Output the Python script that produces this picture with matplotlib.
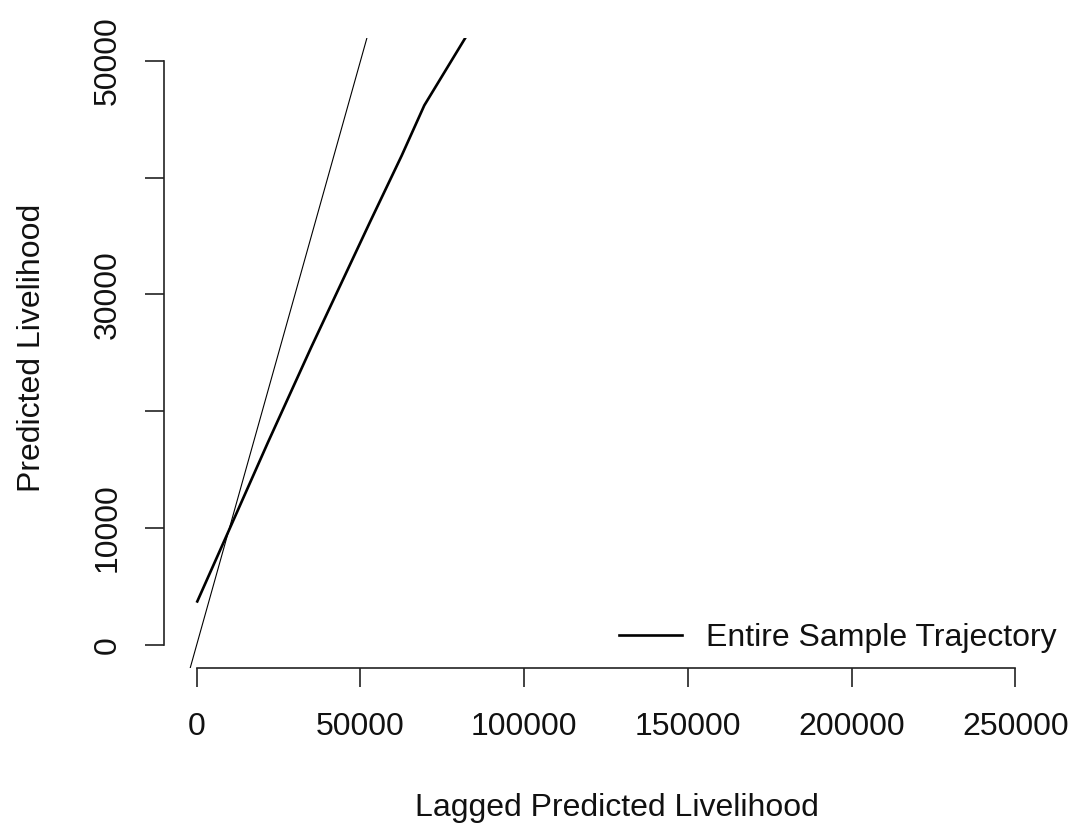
import matplotlib
matplotlib.use("Agg")
import matplotlib.pyplot as plt
from matplotlib.lines import Line2D

plt.rcParams['font.family'] = ['Liberation Sans', 'DejaVu Sans']

# Data
lagged_livelihood = [0, 10000, 21700, 35000, 52900, 62600, 69500, 82500, 85000]
predicted_livelihood = [3600, 9900, 17300, 25500, 36200, 41900, 46200, 52200, 53300]

x_ticks = [0, 50000, 100000, 150000, 200000, 250000]
x_ticklabels = ["0", "50000", "100000", "150000", "200000", "250000"]
y_ticks = [0, 10000, 20000, 30000, 40000, 50000]
y_ticklabels = ["0", "10000", "", "30000", "", "50000"]

x_label = "Lagged Predicted Livelihood"
y_label = "Predicted Livelihood"
legend_label = "Entire Sample Trajectory"

W, H = 1074, 830
fig = plt.figure(figsize=(W / 100, H / 100), dpi=100)
left_px, right_px, top_px, bottom_px = 164, 1048, 37.7, 668
ax = fig.add_axes([left_px / W, 1 - bottom_px / H, (right_px - left_px) / W, (bottom_px - top_px) / H])

fs = 23

ax.plot(lagged_livelihood, predicted_livelihood, color='black', lw=1.9, solid_capstyle='butt')
ax.axline((0, 0), slope=1, color='black', lw=0.8)

ax.set_xlim(-10000, 260000)
ax.set_ylim(-2000, 52000)

for s in ['top', 'right']:
    ax.spines[s].set_visible(False)
ax.spines['left'].set_bounds(0, 50000)
ax.spines['bottom'].set_bounds(0, 250000)
for s in ['left', 'bottom']:
    ax.spines[s].set_linewidth(1.2)
    ax.spines[s].set_color('#222222')

ax.set_xticks(x_ticks)
ax.set_xticklabels(x_ticklabels)
ax.set_yticks(y_ticks)
ax.set_yticklabels(y_ticklabels, rotation=90, va='center')
ax.tick_params(axis='both', direction='out', length=13.7, width=1.2, color='#222222', labelsize=fs, labelcolor='#111111')
ax.tick_params(axis='x', pad=18)
ax.tick_params(axis='y', pad=16)

fig.text(617 / W, 1 - 808 / H, x_label, ha='center', va='center', fontsize=fs, color='#111111')
fig.text(32 / W, 1 - 348 / H, y_label, ha='center', va='center', rotation=90, fontsize=fs, color='#111111')

handle = Line2D([], [], color='black', lw=1.9)
leg = ax.legend([handle], [legend_label], loc='center right', bbox_to_anchor=(1057 / W, 1 - 638 / H),
                bbox_transform=fig.transFigure, frameon=False, fontsize=fs, handlelength=2.0,
                handletextpad=0.75, borderpad=0, borderaxespad=0)
for t in leg.get_texts():
    t.set_color('#111111')

fig.savefig("out.png", dpi=100)
